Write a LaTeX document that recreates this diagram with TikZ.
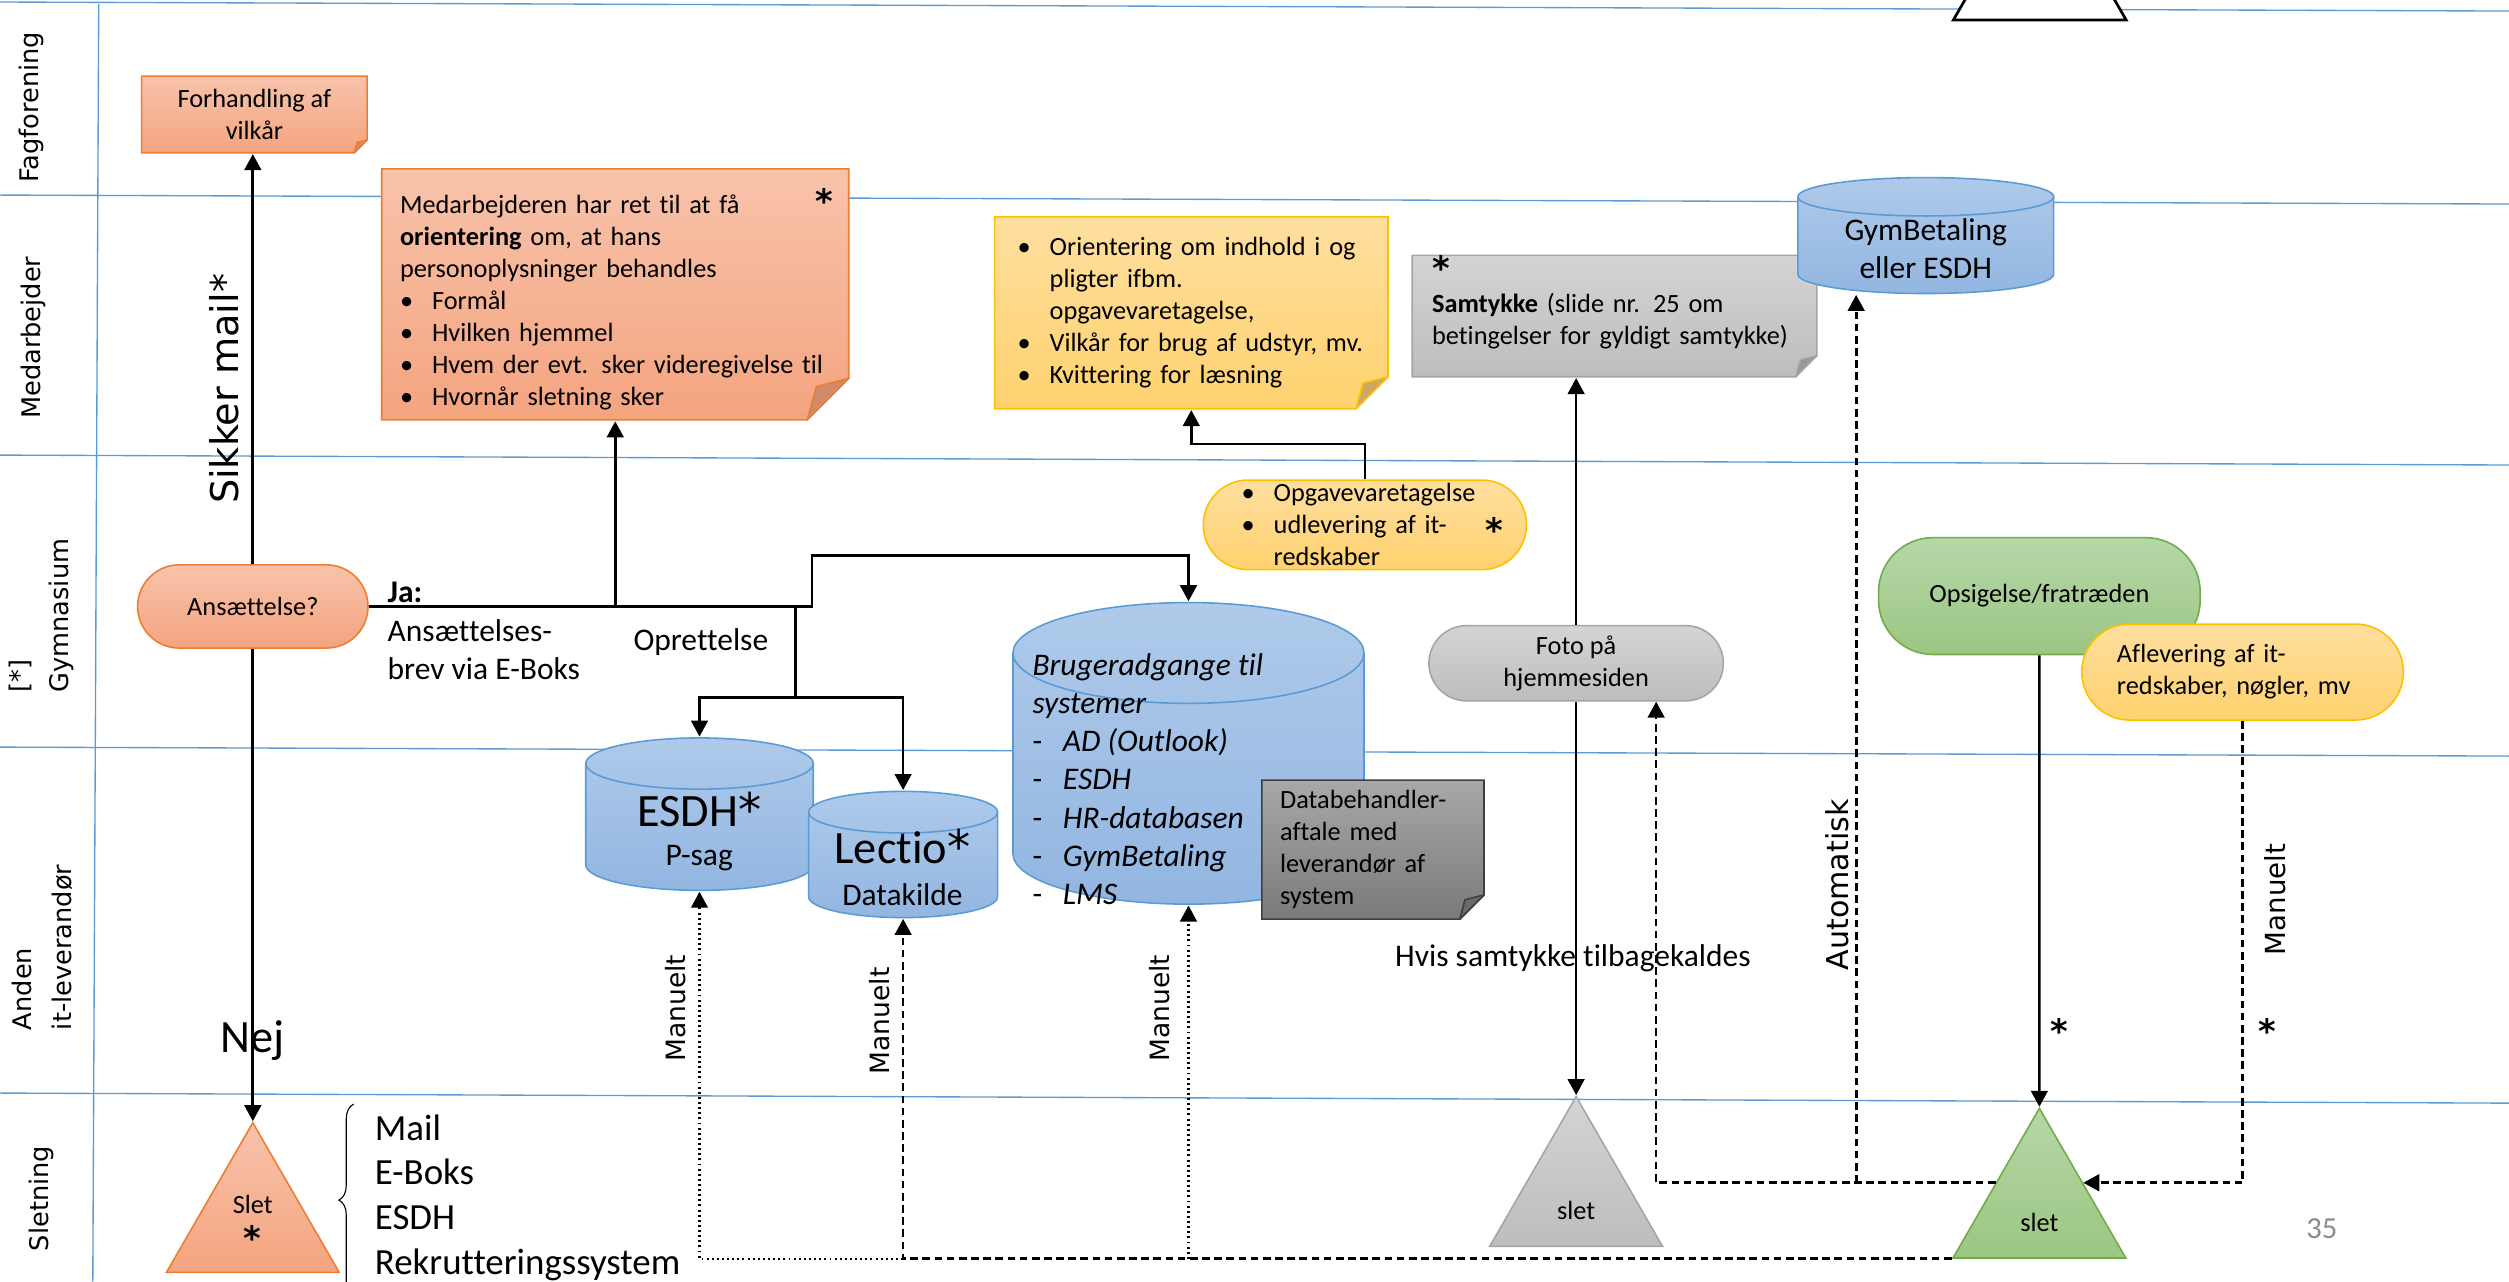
\documentclass[tikz,border=0pt]{standalone}
\usepackage{fontspec}
\setmainfont{Carlito}[Ligatures=NoCommon]
\newfontfamily\verdfont{DejaVu Sans}
\usetikzlibrary{arrows.meta,shapes.geometric,calc,decorations.pathreplacing}

\definecolor{laneblue}{HTML}{5B9BD5}
\definecolor{ortop}{HTML}{F8C3AB}
\definecolor{orbot}{HTML}{F4A47F}
\definecolor{orline}{HTML}{ED7D31}
\definecolor{orfold}{HTML}{D08A6A}
\definecolor{yetop}{HTML}{FFDF9F}
\definecolor{yebot}{HTML}{FFD26F}
\definecolor{yeline}{HTML}{FFC000}
\definecolor{yefold}{HTML}{CBA962}
\definecolor{grtop}{HTML}{D4D4D4}
\definecolor{grbot}{HTML}{BDBDBD}
\definecolor{grline}{HTML}{A5A5A5}
\definecolor{grfold}{HTML}{989898}
\definecolor{dktop}{HTML}{A8A8A8}
\definecolor{dkbot}{HTML}{7A7A7A}
\definecolor{dkline}{HTML}{3F3F3F}
\definecolor{dkfold}{HTML}{6A6A6A}
\definecolor{bltop}{HTML}{AFCAEA}
\definecolor{blbot}{HTML}{92B6E1}
\definecolor{gntop}{HTML}{B6D7A8}
\definecolor{gnbot}{HTML}{9BC683}
\definecolor{gnline}{HTML}{70AD47}
\definecolor{pagegray}{HTML}{8C8C8C}

\newlength{\pxl}
\setlength{\pxl}{0.25mm}
\hyphenpenalty=10000
\exhyphenpenalty=10000

\newcommand{\notesize}{\fontsize{11.7pt}{14.2pt}\selectfont}
\newcommand{\medsize}{\fontsize{14pt}{17pt}\selectfont}
\newcommand{\listsize}{\fontsize{16.4pt}{19.9pt}\selectfont}
\newcommand{\bigsize}{\fontsize{20.6pt}{24pt}\selectfont}
\newcommand{\lanesize}{\verdfont\fontsize{11.4pt}{17.5pt}\selectfont}
\newcommand{\starsize}{\verdfont\bfseries\fontsize{15pt}{14.2pt}\selectfont}
\newcommand{\blt}{\makebox[5mm][l]{\textbullet}}
\newcommand{\ind}{\hspace*{5mm}}
\newcommand{\dsh}{\makebox[4.75mm][l]{\upshape -}}

\tikzset{
  lane/.style={draw=laneblue, line width=0.6pt},
  lanetxt/.style={font=\lanesize, rotate=90, inner sep=0pt},
  vlabel/.style={font=\verdfont\fontsize{11.8pt}{14pt}\selectfont, rotate=90, inner sep=0pt},
  conn/.style={line width=1.2pt, -{Triangle[length=2.5mm,width=2.6mm]}},
  dashconn/.style={conn, dash pattern=on 1.2mm off 0.7mm},
  dotconn/.style={conn, line width=1pt, dash pattern=on 0.3mm off 0.5mm},
  asterisk/.style={font=\starsize, inner sep=0pt},
  term/.style n args={4}{rectangle, rounded corners=#4, draw=#3, line width=0.7pt,
    top color=#1, bottom color=#2, inner sep=0pt, font=\notesize},
  slettri/.style n args={3}{regular polygon, regular polygon sides=3,
    minimum size=124.7\pxl, inner sep=0pt, top color=#1, bottom color=#2,
    draw=#3, line width=0.7pt, font=\notesize},
  % sticky note with folded corner: top, bottom, line, fold colour, fold size
  note/.style n args={5}{rectangle, inner sep=0pt, font=\notesize,
    path picture={
      \coordinate (pp-a) at ([shift={(0.4pt,-0.4pt)}]path picture bounding box.north west);
      \coordinate (pp-b) at ([shift={(-0.4pt,0.4pt)}]path picture bounding box.south east);
      \path[top color=#1, bottom color=#2, draw=#3, line width=0.7pt]
        (pp-a) -- (pp-a -| pp-b) -- ([yshift=#5]pp-b) -- ([xshift=-#5]pp-b)
        -- (pp-a |- pp-b) -- cycle;
      \path[fill=#4, draw=#3, line width=0.7pt, line join=round]
        ([yshift=#5]pp-b) -- ([xshift=-#5]pp-b)
        -- ([xshift=-0.78*#5, yshift=0.8*#5]pp-b) -- cycle;
    }},
  % database drum: top, bottom, line colour, half height of the ellipse
  dbase/.style n args={4}{rectangle, inner sep=0pt,
    path picture={
      \path[top color=#1, bottom color=#2, draw=#3, line width=0.7pt]
        let \p1=(path picture bounding box.north west),
            \p2=(path picture bounding box.south east),
            \n1={(\x2-\x1)/2-0.4pt} in
        (\x1+0.4pt,\y1-0.4pt-#4) -- (\x1+0.4pt,\y2+0.4pt+#4)
        arc[start angle=180, end angle=360, x radius=\n1, y radius=#4]
        -- (\x2-0.4pt,\y1-0.4pt-#4)
        arc[start angle=0, end angle=180, x radius=\n1, y radius=#4] -- cycle;
      \path[draw=#3, line width=0.7pt]
        let \p1=(path picture bounding box.north west),
            \p2=(path picture bounding box.south east),
            \n1={(\x2-\x1)/2-0.4pt} in
        (\x1+0.4pt,\y1-0.4pt-#4)
        arc[start angle=180, end angle=360, x radius=\n1, y radius=#4];
    }},
}

\begin{document}
\begin{tikzpicture}[x=0.25mm, y=0.25mm]
\useasboundingbox (0,0) rectangle (1568,-801);

% swimlanes
\draw[lane] (0,-1.25) -- (1568,-6.9);
\draw[lane] (0,-121.9) -- (1568,-127.5);
\draw[lane] (0,-284.4) -- (1568,-290.6);
\draw[lane] (0,-466.9) -- (1568,-472.5);
\draw[lane] (0,-683.1) -- (1568,-689.4);
\draw[lane] (61.7,-2.5) -- (58,-801);

\node[lanetxt] (l-fag) at (19.7,-67) {Fagforening};
\node[lanetxt] (l-med) at (20.6,-211) {Medarbejder};
\node[lanetxt, anchor=west, align=left] (l-gym) at (26,-433) {[*]\\Gymnasium};
\node[lanetxt, anchor=west, align=left] (l-lev) at (26.5,-644) {Anden\\it-leverandør};
\node[lanetxt] (l-slet) at (26,-749) {Sletning};

% top edge of the next slide's triangle
\node[regular polygon, regular polygon sides=3, minimum size=124.7\pxl, inner sep=0pt,
  draw=black, fill=white, line width=1.2pt] (slet0) at (1274.75,18.7) {};

% nodes
\node[note={ortop}{orbot}{orline}{orfold}{2mm}, minimum width=142\pxl,
  minimum height=49\pxl, align=center] (forh) at (159,-71.5) {Forhandling af\\vilkår};
\node[note={ortop}{orbot}{orline}{orfold}{6.5mm}, minimum width=293\pxl,
  minimum height=158\pxl, text width=269\pxl, align=left] (med) at (384.5,-184)
  {\rule{0pt}{5.5mm}Medarbejderen har ret til at få\\\textbf{orientering} om, at hans\\personoplysninger behandles\\
   \blt Formål\\\blt Hvilken hjemmel\\\blt Hvem der evt. sker videregivelse til\\\blt Hvornår sletning sker};
\node[asterisk] (med-s) at (515,-125.5) {*};

\node[note={yetop}{yebot}{yeline}{yefold}{5mm}, minimum width=247\pxl,
  minimum height=121\pxl, text width=217\pxl, align=left] (orient) at (744.5,-195.5)
  {\blt Orientering om indhold i og\\\ind pligter ifbm.\\\ind opgavevaretagelse,\\
   \blt Vilkår for brug af udstyr, mv.\\\blt Kvittering for læsning};

\node[note={grtop}{grbot}{grline}{grfold}{3.3mm}, minimum width=254\pxl,
  minimum height=77\pxl, text width=228\pxl, align=left] (samt) at (1009,-197.5)
  {{\starsize *}\\\textbf{Samtykke} (slide nr. 25 om\\betingelser for gyldigt samtykke)\\\mbox{}};

\node[dbase={bltop}{blbot}{laneblue}{12\pxl}, minimum width=161\pxl,
  minimum height=73.6\pxl] (gym) at (1203.5,-147.2) {};
\node[font=\medsize, align=center, inner sep=0pt] (gym-t) at (1203.5,-155.5) {GymBetaling\\eller ESDH};

\node[term={ortop}{orbot}{orline}{26\pxl}, minimum width=144\pxl,
  minimum height=52\pxl] (ans) at (158,-379) {Ansættelse?};

\node[term={yetop}{yebot}{yeline}{28\pxl}, minimum width=202\pxl,
  minimum height=56\pxl, text width=154\pxl, align=left] (opg) at (853,-328)
  {\blt Opgavevaretagelse\\\blt udlevering af it-\\\ind redskaber};
\node[asterisk] (opg-s) at (934,-331.5) {*};

\node[term={grtop}{grbot}{grline}{23.5\pxl}, minimum width=184\pxl,
  minimum height=47\pxl, align=center] (foto) at (985,-414.5) {Foto på\\hjemmesiden};

\node[term={gntop}{gnbot}{gnline}{34\pxl}, minimum width=201\pxl,
  minimum height=73\pxl] (ops) at (1274.5,-372.5) {Opsigelse/fratræden};
\node[term={yetop}{yebot}{yeline}{30\pxl}, minimum width=201\pxl,
  minimum height=60\pxl, text width=157\pxl, align=left] (afl) at (1401.5,-420)
  {Aflevering af it-\\redskaber, nøgler, mv};

\node[dbase={bltop}{blbot}{laneblue}{16\pxl}, minimum width=143.3\pxl,
  minimum height=96.4\pxl] (esdh) at (437.15,-508.8) {};
\node[font=\bigsize, inner sep=0pt] (esdh-t) at (437,-506) {ESDH{\verdfont *}};
\node[font=\medsize, inner sep=0pt] (esdh-s) at (437,-536) {P-sag};

\node[dbase={bltop}{blbot}{laneblue}{13\pxl}, minimum width=119.2\pxl,
  minimum height=80\pxl] (lectio) at (564.4,-534) {};
\node[font=\bigsize, inner sep=0pt] (lectio-t) at (564,-529) {Lectio{\verdfont *}};
\node[font=\medsize, inner sep=0pt] (lectio-s) at (564,-559) {Datakilde};

\node[dbase={bltop}{blbot}{laneblue}{31.5\pxl}, minimum width=220.5\pxl,
  minimum height=189.6\pxl] (brug) at (742.75,-470.8) {};
\node[font=\medsize\itshape, align=left, anchor=north west, inner sep=0pt] (brug-t) at (645,-408)
  {Brugeradgange til\\systemer\\\dsh AD (Outlook)\\\dsh ESDH\\\dsh HR-databasen\\\dsh GymBetaling\\\dsh LMS};

\node[note={dktop}{dkbot}{dkline}{dkfold}{3.8mm}, minimum width=140\pxl,
  minimum height=88\pxl, text width=116\pxl, align=left] (dba) at (858,-531)
  {Databehandler-\\aftale med\\leverandør af\\system};

\node[slettri={ortop}{orbot}{orline}, align=center] (slet1) at (158,-764)
  {Slet\\[3\pxl]{\starsize *}};
\node[slettri={grtop}{grbot}{grline}] (slet2) at (985,-747.7) {\raisebox{-3.6mm}[0pt][0pt]{slet}};
\node[slettri={gntop}{gnbot}{gnline}] (slet3) at (1274.5,-755) {\raisebox{-3.6mm}[0pt][0pt]{slet}};

% texts
\node[rotate=90, font=\verdfont\fontsize{17pt}{20pt}\selectfont, inner sep=0pt] (sikker) at (140,-243) {Sikker mail*};
\node[font=\bigsize, inner sep=0pt] (nej) at (158,-650) {Nej};
\node[font=\medsize, anchor=west, align=left, inner sep=0pt] (ja) at (242,-394.4)
  {\textbf{Ja:}\\Ansættelses-\\brev via E-Boks};
\node[font=\medsize, inner sep=0pt] (opr) at (438,-401) {Oprettelse};
\node[font=\medsize, inner sep=0pt] (hvis) at (983,-599) {Hvis samtykke tilbagekaldes};
\node[vlabel] (man1) at (422,-630) {Manuelt};
\node[vlabel] (man2) at (550,-638) {Manuelt};
\node[vlabel] (man3) at (724.5,-630) {Manuelt};
\node[vlabel, font=\verdfont\fontsize{12.3pt}{14pt}\selectfont] (man4) at (1422,-562) {Manuelt};
\node[vlabel, font=\verdfont\fontsize{13.4pt}{16pt}\selectfont] (auto) at (1148,-553) {Automatisk};
\node[asterisk] (ops-s) at (1287,-644) {*};
\node[asterisk] (afl-s) at (1417,-644) {*};
\node[font=\listsize, anchor=west, align=left, inner sep=0pt] (mail) at (234,-748.5)
  {Mail\\E-Boks\\ESDH\\Rekrutteringssystem};
\draw[line width=0.5pt, decorate, decoration={brace, amplitude=2.3mm}] (221,-810) -- (221,-690);
\node[font=\fontsize{13.6pt}{16pt}\selectfont, text=pagegray, inner sep=0pt] (pnum) at (1451,-768) {35};

% connectors
\draw[conn] (ans.north) -- (ans.north |- forh.south);
\draw[conn] (ans.south) -- (ans.south |- slet1.north);
\draw[conn] (ans.east) -| (med.south);
\coordinate (jasplit) at (med.south |- ans.east);
\draw[conn] (jasplit) -| ++(123,32) -| (brug.north);
\coordinate (fork) at (497,-436);
\draw[line width=1.2pt] (fork |- jasplit) -- (fork);
\draw[conn] (fork) -| (esdh.north);
\draw[conn] (fork) -| (lectio.north);

\draw[conn] (opg.north) -- ++(0,22) -| (orient.south);
\draw[conn] (foto.north) -- (foto.north |- samt.south);
\draw[conn] (foto.south) -- (foto.south |- slet2.north);
\draw[conn] (ops.south) -- (slet3.north);

\coordinate (gright) at ($(slet3.corner 1)!0.5!(slet3.corner 3)$);
\coordinate (gleft) at ($(slet3.corner 1)!0.5!(slet3.corner 2)$);
\coordinate (gymin) at ([xshift=-43.5\pxl]gym.south);
\draw[dashconn] (afl.south) |- (gright);
\draw[dashconn] (gleft) -| ([xshift=50\pxl]foto.south);
\draw[dashconn] (gleft -| gymin) -- (gymin);

\draw[dashconn] (slet3.corner 2) -| (lectio.south);
\draw[dotconn] (lectio.south |- slet3.corner 2) -| (esdh.south);
\draw[dotconn] (brug.south |- slet3.corner 2) -- (brug.south);
\end{tikzpicture}
\end{document}
